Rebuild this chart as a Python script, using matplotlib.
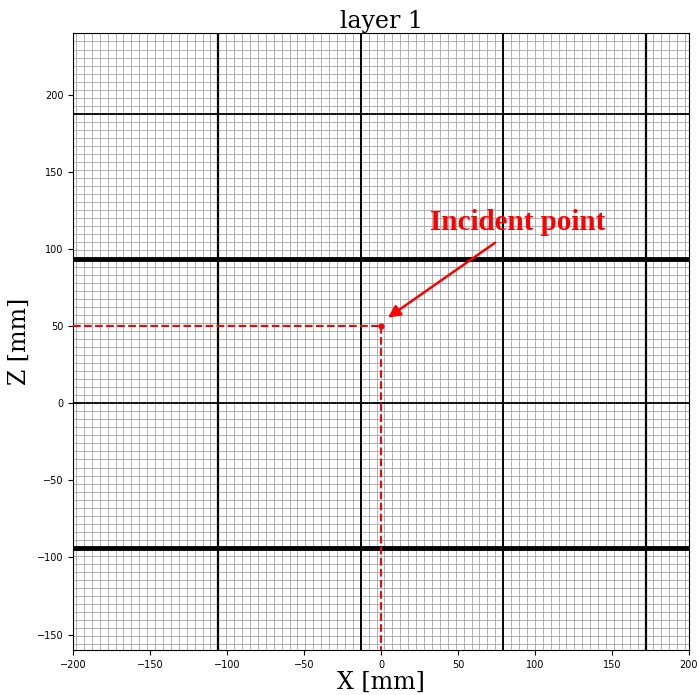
import numpy as np
import matplotlib
matplotlib.use('Agg')
import matplotlib.pyplot as plt

# --- Geometry of layer 1 (mm) ---
# module boundaries along X and Z
MODULE_X = [-105.7, -13.2, 79.3, 171.8]
MODULE_Z = [-93.8, 0.0, 93.8, 187.6]
# line width of each Z boundary (outer module edges are drawn heavier)
MODULE_Z_LW = [3.5, 1.3, 3.5, 1.3]
MODULE_X_LW = [1.6, 1.4, 1.4, 1.6]

# readout cell pitch inside one module
CELLS_PER_MODULE = 18
PITCH_X = 92.5 / CELLS_PER_MODULE
PITCH_Z = 93.8 / CELLS_PER_MODULE

# incident point of the beam
HIT_X = 0.0
HIT_Z = 50.0

X_RANGE = (-200, 200)
Z_RANGE = (-160, 240)


def cell_edges(anchor, pitch, lo, hi):
    """All cell edges of a regular grid anchored at `anchor` inside [lo, hi]."""
    k_lo = int(np.ceil((lo - anchor) / pitch))
    k_hi = int(np.floor((hi - anchor) / pitch))
    return anchor + pitch * np.arange(k_lo, k_hi + 1)


fig = plt.figure(figsize=(6.97, 6.95), dpi=100)
ax = fig.add_axes([0.105, 0.0647, 0.8835, 0.8878])

# fine cell grid
for x in cell_edges(MODULE_X[0], PITCH_X, *X_RANGE):
    ax.axvline(x, color='0.62', lw=0.55, zorder=1)
for z in cell_edges(MODULE_Z[1], PITCH_Z, *Z_RANGE):
    ax.axhline(z, color='0.62', lw=0.55, zorder=1)

# module boundaries
for x, lw in zip(MODULE_X, MODULE_X_LW):
    ax.axvline(x, color='black', lw=lw, zorder=2)
for z, lw in zip(MODULE_Z, MODULE_Z_LW):
    ax.axhline(z, color='black', lw=lw, zorder=2)

# incident point with projections onto the axes
ax.plot([X_RANGE[0], HIT_X], [HIT_Z, HIT_Z], color='red', ls='--', lw=1.5, zorder=3)
ax.plot([HIT_X, HIT_X], [HIT_Z, Z_RANGE[0]], color='red', ls='--', lw=1.5, zorder=3)
ax.plot(HIT_X, HIT_Z, 'o', color='red', ms=3.5, zorder=4)

ax.annotate('', xy=(HIT_X + 4.5, HIT_Z + 5.5), xytext=(74, 104),
            arrowprops=dict(arrowstyle='-|>', color='red', lw=1.8,
                            mutation_scale=18, shrinkA=0, shrinkB=0),
            zorder=5)
ax.text(89, 117, 'Incident point', color='red', ha='center', va='center',
        fontsize=21, fontweight='bold', family='Liberation Serif', zorder=5)

ax.set_xlim(*X_RANGE)
ax.set_ylim(*Z_RANGE)
ax.set_xticks(np.arange(-200, 201, 50))
ax.set_yticks(np.arange(-150, 201, 50))
ax.tick_params(labelsize=7)

ax.set_title('layer 1', family='DejaVu Serif', fontsize=17, pad=2)
ax.set_xlabel('X [mm]', family='DejaVu Serif', fontsize=17, labelpad=1)
ax.set_ylabel('Z [mm]', family='DejaVu Serif', fontsize=17, labelpad=4)

fig.savefig('out.png', dpi=100)
